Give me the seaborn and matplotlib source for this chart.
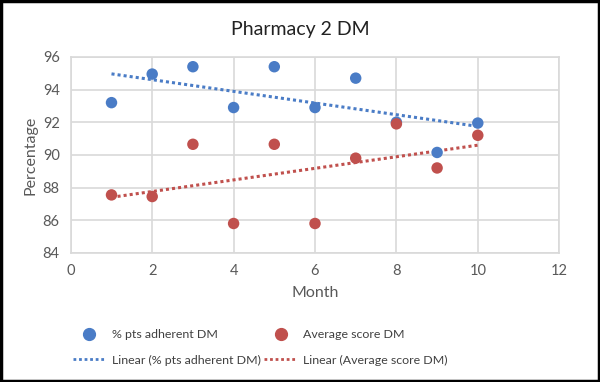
import matplotlib
matplotlib.use("Agg")
import matplotlib.pyplot as plt
import seaborn as sns
import pandas as pd
from matplotlib.lines import Line2D

months = [1, 2, 3, 4, 5, 6, 7, 8, 9, 10]
adherent = [93.2, 94.95, 95.4, 92.9, 95.4, 92.9, 94.7, 92.0, 90.15, 91.95]
avg_score = [87.55, 87.45, 90.65, 85.8, 90.65, 85.8, 89.8, 91.9, 89.2, 91.2]
x_ticks = [0, 2, 4, 6, 8, 10, 12]
y_ticks = [84, 86, 88, 90, 92, 94, 96]
title = "Pharmacy 2 DM"
label_adh = "% pts adherent DM"
label_avg = "Average score DM"

df = pd.DataFrame({"Month": months, "adh": adherent, "avg": avg_score})

BLUE = "#4a7cc6"
RED = "#c0504d"
GRID = "#d9d9d9"
TXT = "#595959"

sns.set_theme(style="white")
plt.rcParams["font.family"] = ["Lato", "DejaVu Sans"]

fig = plt.figure(figsize=(6.0, 3.82), dpi=100)
ax = fig.add_axes([0.118, 0.338, 0.814, 0.513])

sns.regplot(data=df, x="Month", y="adh", ax=ax, ci=None, truncate=True,
            scatter_kws=dict(s=68, color=BLUE, edgecolor="none", alpha=1, zorder=3),
            line_kws=dict(color=BLUE, linestyle=(0, (1, 1)), linewidth=2.2, zorder=2))
sns.regplot(data=df, x="Month", y="avg", ax=ax, ci=None, truncate=True,
            scatter_kws=dict(s=68, color=RED, edgecolor="none", alpha=1, zorder=3),
            line_kws=dict(color=RED, linestyle=(0, (1, 1)), linewidth=2.2, zorder=2))

ax.set_xlim(0, 12)
ax.set_ylim(84, 96)
ax.set_xticks(x_ticks)
ax.set_yticks(y_ticks)
ax.grid(True, color=GRID, linewidth=1.2)
ax.set_axisbelow(True)
for s in ax.spines.values():
    s.set_visible(True)
    s.set_color(GRID)
    s.set_linewidth(1.2)
ax.tick_params(axis="both", colors=TXT, labelsize=10.5, length=0, pad=8)
ax.set_xlabel("Month", fontsize=11.5, color=TXT, labelpad=6)
ax.set_ylabel("Percentage", fontsize=11.5, color=TXT, labelpad=4)
fig.text(0.5, 0.922, title, fontsize=14, color="#222222", ha="center", va="center")

handles = [
    Line2D([], [], marker="o", linestyle="none", color=BLUE, markersize=8.5),
    Line2D([], [], color=BLUE, linestyle=(0, (1, 1)), linewidth=2),
    Line2D([], [], marker="o", linestyle="none", color=RED, markersize=8.5),
    Line2D([], [], color=RED, linestyle=(0, (1, 1)), linewidth=2),
]
labels = [label_adh, f"Linear ({label_adh})", label_avg, f"Linear ({label_avg})"]
fig.legend(handles, labels, loc="center", bbox_to_anchor=(0.434, 0.090), ncol=2,
           frameon=False, fontsize=8.9, labelcolor="#404040", handlelength=2.6,
           columnspacing=0.3, handletextpad=0.55, labelspacing=1.15)

fig.patches.append(plt.Rectangle((0.002, 0.003), 0.996, 0.994, transform=fig.transFigure,
                                 fill=False, edgecolor="black", linewidth=2.5))

fig.savefig("out.png", dpi=100)
